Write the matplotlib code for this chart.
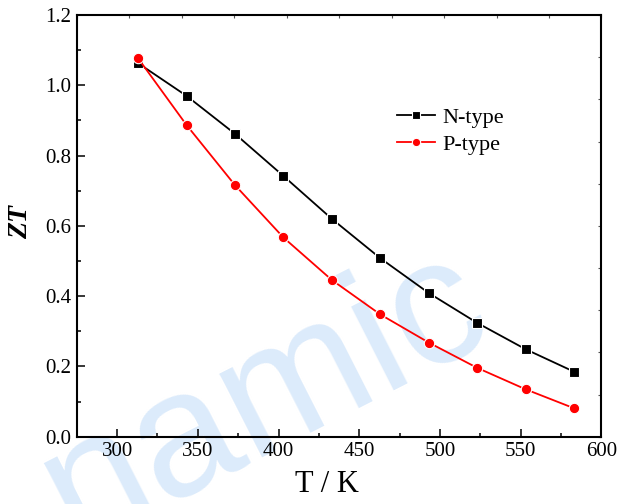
import numpy as np
import matplotlib
matplotlib.use("Agg")
import matplotlib.pyplot as plt
from matplotlib.ticker import MultipleLocator

# Temperature (K) and figure of merit for both leg types
temperature = [313, 343, 373, 403, 433, 463, 493, 523, 553, 583]
zt_n_type = [1.063, 0.970, 0.862, 0.742, 0.620, 0.508, 0.409, 0.324, 0.249, 0.185]
zt_p_type = [1.077, 0.887, 0.716, 0.567, 0.446, 0.348, 0.268, 0.196, 0.135, 0.081]
series_labels = ["N-type", "P-type"]
x_ticks = [300, 350, 400, 450, 500, 550, 600]
y_ticks = [0.0, 0.2, 0.4, 0.6, 0.8, 1.0, 1.2]

serif = "Liberation Serif"

fig = plt.figure(figsize=(6.33, 5.04), dpi=100)
ax = fig.add_axes([0.1212, 0.1335, 0.8290, 0.8367])
ax.set_facecolor("none")

# faint site watermark behind the plot
fig.text(0.118, -0.086, "namic", fontsize=128, family="Liberation Sans",
         color="#dcebfb", rotation=27, rotation_mode="anchor",
         ha="left", va="baseline", zorder=-5)

ax.plot(temperature, zt_n_type, color="black", lw=1.3, marker="s", ms=7,
        mfc="black", mec="white", mew=0.8, label=series_labels[0], zorder=3)
ax.plot(temperature, zt_p_type, color="#ff0000", lw=1.3, marker="o", ms=7.5,
        mfc="#ff0000", mec="white", mew=0.8, label=series_labels[1], zorder=3)

ax.set_xlim(275, 600)
ax.set_ylim(0, 1.2)
ax.set_xticks(x_ticks)
ax.set_yticks(y_ticks)
ax.set_yticklabels([f"{v:.1f}" for v in y_ticks])
ax.xaxis.set_minor_locator(MultipleLocator(25))
ax.yaxis.set_minor_locator(MultipleLocator(0.1))
ax.tick_params(which="major", direction="in", length=5.5, width=1.1,
               labelsize=15, pad=4, top=False, right=False)
ax.tick_params(which="minor", direction="in", length=3, width=1.1,
               top=False, right=False)
for lab in ax.get_xticklabels() + ax.get_yticklabels():
    lab.set_family(serif)

for sp in ax.spines.values():
    sp.set_linewidth(1.5)

# small unlabeled ticks on the opposite axes
top = ax.secondary_xaxis("top")
top.set_xticks(np.linspace(275, 600, 11))
top.tick_params(direction="in", length=2, width=0.8, color="#555555",
                labeltop=False)
top.spines["top"].set_visible(False)
right = ax.secondary_yaxis("right")
right.set_yticks(np.linspace(0, 1.2, 11))
right.tick_params(direction="in", length=2, width=0.8, color="#555555",
                  labelright=False)
right.spines["right"].set_visible(False)

ax.set_xlabel("T / K", family=serif, fontsize=22)
ax.xaxis.set_label_coords(0.477, -0.080)
ax.set_ylabel("ZT", family=serif, fontsize=20, style="italic",
              fontweight="bold")
ax.yaxis.set_label_coords(-0.083, 0.51)

leg = ax.legend(loc="upper left", bbox_to_anchor=(0.610, 0.781), frameon=False,
                prop={"family": serif, "size": 16}, handlelength=1.7,
                handletextpad=0.36, labelspacing=0.3, borderpad=0,
                borderaxespad=0, markerscale=0.8)

fig.savefig("out.png", dpi=100)
